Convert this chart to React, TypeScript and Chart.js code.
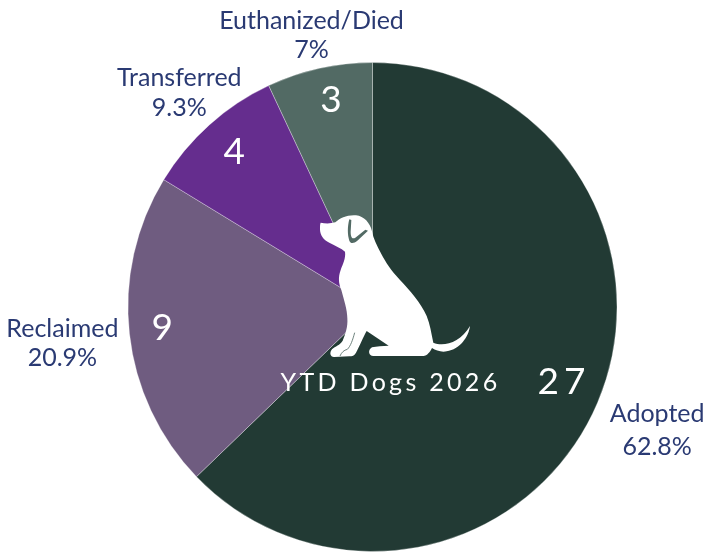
import React, { useEffect, useRef } from "react";
import { Chart, registerables } from "chart.js";

Chart.register(...registerables);

const categories = ["Adopted", "Reclaimed", "Transferred", "Euthanized/Died"];
const counts = [27, 9, 4, 3];
const percentLabels = ["62.8%", "20.9%", "9.3%", "7%"];
const sliceColors = ["#223a34", "#6f5c80", "#652d8e", "#526a64"];
const centerTitle = "YTD Dogs 2026";

// radial placement of labels, as a share of the pie radius
const outerLabelRadius = [1.265, 1.276, 1.184, 1.147];
const valueLabelRadius = [0.82, 0.857, 0.853, 0.855];
const lineGaps = [33, 29, 30, 29];
const valueNudgeX = [7, -2, 1, 4];
const valueNudgeY = [-3, -2, 0, -3];

const FONT = "Lato, 'Open Sans', sans-serif";
const TEXT = "#2a3a73";

// dog silhouette, local units
const dogPath =
  "M182 98 C196 101 212 101 226 97 C240 84 262 74 288 76 C312 79 330 98 336 124 C340 146 350 166 364 192 C378 218 392 240 420 270 C450 302 482 338 500 378 C510 402 514 430 520 458 C550 470 600 460 630 408 C626 440 600 478 560 484 C544 487 528 482 516 474 C510 486 502 497 490 498 L340 498 C326 498 322 480 336 472 C350 468 368 468 386 467 L320 423 C310 440 298 470 288 488 C284 497 276 499 268 499 L222 501 C210 501 208 488 216 478 C226 468 240 466 248 452 C256 434 264 410 262 385 C262 360 252 330 244 300 C236 280 234 262 242 240 C248 222 258 205 255 185 C244 174 226 168 208 158 C190 150 180 135 180 118 C180 108 180 102 182 98 Z";
const dogEar =
  "M268 88 C262 110 262 135 268 152 C272 162 282 160 292 152 L324 122 L316 119 L286 143 C276 149 272 140 272 125 L274 90 Z";
const dogLeg = "M284 428 C278 450 272 468 262 478 M262 478 C252 480 244 488 240 498";

const dogPlugin = {
  id: "dogAndLabels",
  afterDatasetsDraw(chart: any) {
    const ctx: CanvasRenderingContext2D = chart.ctx;
    const arcs = chart.getDatasetMeta(0).data;
    const cx = arcs[0].x;
    const cy = arcs[0].y;
    const R = arcs[0].outerRadius;

    ctx.save();
    ctx.textAlign = "center";
    ctx.textBaseline = "middle";
    arcs.forEach((arc: any, i: number) => {
      const mid = (arc.startAngle + arc.endAngle) / 2;
      const dx = Math.cos(mid);
      const dy = Math.sin(mid);
      ctx.fillStyle = "#ffffff";
      ctx.font = `400 37px ${FONT}`;
      (ctx as any).letterSpacing = i === 0 ? "5px" : "0px";
      ctx.fillText(
        String(counts[i]),
        cx + dx * R * valueLabelRadius[i] + valueNudgeX[i],
        cy + dy * R * valueLabelRadius[i] + valueNudgeY[i]
      );
      (ctx as any).letterSpacing = "0px";
      const lx = cx + dx * R * outerLabelRadius[i];
      const ly = cy + dy * R * outerLabelRadius[i] + 2;
      ctx.fillStyle = TEXT;
      ctx.font = `25px ${FONT}`;
      ctx.fillText(categories[i], lx, ly - lineGaps[i] / 2);
      ctx.fillText(percentLabels[i], lx, ly + lineGaps[i] / 2);
    });

    // dog: local units are 3 per px, origin relative to pie centre
    ctx.save();
    ctx.translate(cx - 112.5, cy - 117);
    ctx.scale(1 / 3, 1 / 3);
    ctx.fillStyle = "#ffffff";
    ctx.fill(new Path2D(dogPath));
    ctx.fillStyle = sliceColors[3];
    ctx.fill(new Path2D(dogEar));
    ctx.strokeStyle = "#526a64";
    ctx.lineWidth = 2.5;
    ctx.stroke(new Path2D(dogLeg));
    ctx.restore();

    ctx.fillStyle = "#ffffff";
    ctx.font = `25px ${FONT}`;
    (ctx as any).letterSpacing = "3.3px";
    ctx.fillText(centerTitle, cx + 18, cy + 76);
    ctx.restore();
  },
};

export default function App() {
  const ref = useRef<HTMLCanvasElement>(null);
  useEffect(() => {
    document.body.style.margin = "0";
    const chart = new Chart(ref.current!, {
      type: "pie",
      data: {
        labels: categories,
        datasets: [
          {
            data: counts,
            backgroundColor: sliceColors,
            borderColor: "rgba(255,255,255,0.3)",
            borderWidth: 1,
          },
        ],
      },
      options: {
        animation: false,
        responsive: false,
        layout: { padding: { left: 39, top: 62, right: 0, bottom: 0 } },
        plugins: { legend: { display: false }, tooltip: { enabled: false } },
      },
      plugins: [dogPlugin],
    });
    return () => chart.destroy();
  }, []);
  return <canvas ref={ref} width={706} height={552} style={{ display: "block" }} />;
}
